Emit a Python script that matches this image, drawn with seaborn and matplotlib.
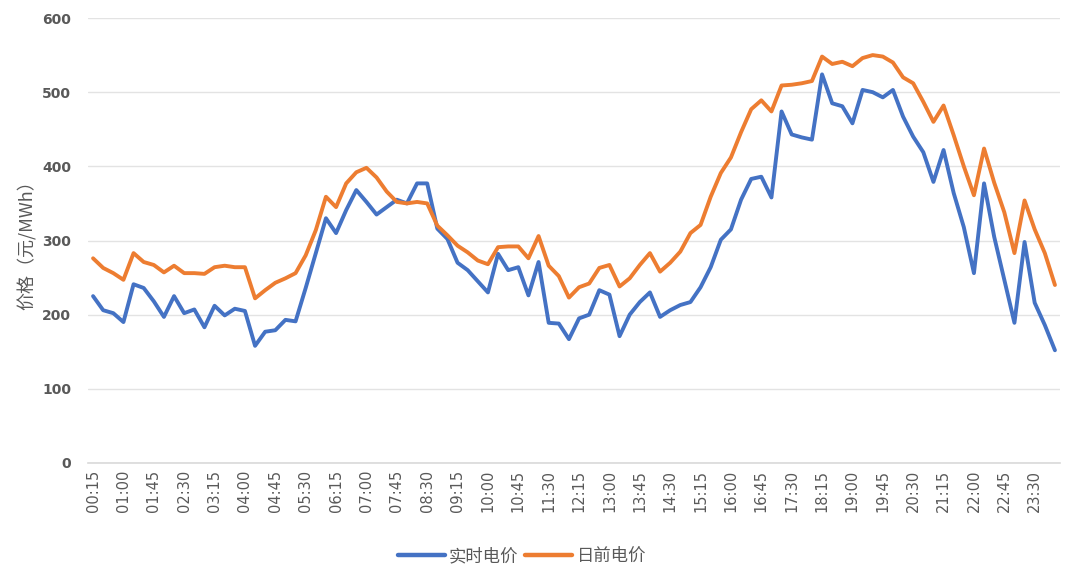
import matplotlib
matplotlib.use("Agg")
import matplotlib.pyplot as plt
import seaborn as sns
import pandas as pd

times = [f"{(m // 60) % 24:02d}:{m % 60:02d}" for m in range(15, 1441, 15)]
times[-1] = "24:00"

realtime = [225, 206, 202, 190, 241, 236, 218, 197, 225, 202, 207, 183, 212, 199, 208, 205,
            158, 177, 179, 193, 191, 236, 283, 330, 310, 341, 368, 352, 335, 345, 355, 350,
            377, 377, 316, 302, 270, 260, 245, 230, 282, 260, 264, 226, 271, 189, 188, 167,
            195, 200, 233, 227, 171, 200, 217, 230, 197, 206, 213, 217, 237, 264, 301, 315,
            355, 383, 386, 358, 474, 443, 439, 436, 524, 485, 481, 458, 503, 500, 493, 503,
            467, 440, 419, 379, 422, 364, 318, 256, 377, 305, 247, 189, 298, 216, 186, 152]

dayahead = [276, 263, 256, 247, 283, 271, 267, 257, 266, 256, 256, 255, 264, 266, 264, 264,
            222, 233, 243, 249, 256, 280, 314, 359, 345, 377, 392, 398, 385, 366, 352, 350,
            352, 350, 320, 307, 293, 284, 273, 268, 291, 292, 292, 276, 306, 266, 252, 223,
            237, 242, 263, 267, 238, 249, 267, 283, 258, 270, 285, 310, 321, 359, 391, 412,
            446, 477, 489, 474, 509, 510, 512, 515, 548, 538, 541, 535, 546, 550, 548, 540,
            520, 512, 487, 460, 482, 442, 400, 361, 424, 378, 338, 283, 354, 315, 283, 240]

series_names = ["实时电价", "日前电价"]
colors = ["#4472C4", "#ED7D31"]
y_ticks = [0, 100, 200, 300, 400, 500, 600]

df = pd.DataFrame({"时间": times * 2,
                   "价格": realtime + dayahead,
                   "类型": [series_names[0]] * len(times) + [series_names[1]] * len(times)})

sns.set_theme(style="white")
plt.rcParams['font.family'] = ['Noto Sans CJK SC', 'DejaVu Sans']

fig = plt.figure(figsize=(10.8, 5.73), dpi=100)
ax = fig.add_axes([88 / 1080, 1 - 463 / 573, (1060 - 88) / 1080, (463 - 18) / 573])

sns.lineplot(data=df, x="时间", y="价格", hue="类型",
             palette=colors, linewidth=2.8, ax=ax, sort=False, legend=True)

ax.set_ylim(0, 600)
ax.set_yticks(y_ticks)
ax.set_xlim(-0.5, len(times) - 0.5)
tick_pos = list(range(0, len(times), 3))
ax.set_xticks(tick_pos)
ax.set_xticklabels([times[i] for i in tick_pos], rotation=90, family=['DejaVu Sans'])
ax.tick_params(axis='x', colors="#595959", labelsize=10.5, length=0, pad=5)
ax.tick_params(axis='y', colors="#595959", labelsize=10, length=0, pad=12)
for lbl in ax.get_yticklabels():
    lbl.set_family(['DejaVu Sans'])
    lbl.set_fontweight('semibold')

ax.grid(axis='y', color="#e3e3e3", linewidth=1)
ax.grid(axis='x', visible=False)
for s in ["top", "right", "left"]:
    ax.spines[s].set_visible(False)
ax.spines["bottom"].set_color("#d9d9d9")
ax.spines["bottom"].set_linewidth(1.2)

ax.set_xlabel("")
ax.set_ylabel("价格（元/MWh）", fontsize=13, color="#595959", labelpad=4)

handles, labels = ax.get_legend_handles_labels()
ax.get_legend().remove()
fig.legend(handles, labels, loc="center", bbox_to_anchor=(522 / 1080, 1 - 556 / 573),
           ncol=2, frameon=False, fontsize=12.5, handlelength=2.7,
           columnspacing=0.4, handletextpad=0.25, labelcolor="#595959")
for h in fig.legends[0].get_lines():
    h.set_linewidth(3.2)

fig.savefig("out.png", dpi=100, facecolor="white")
